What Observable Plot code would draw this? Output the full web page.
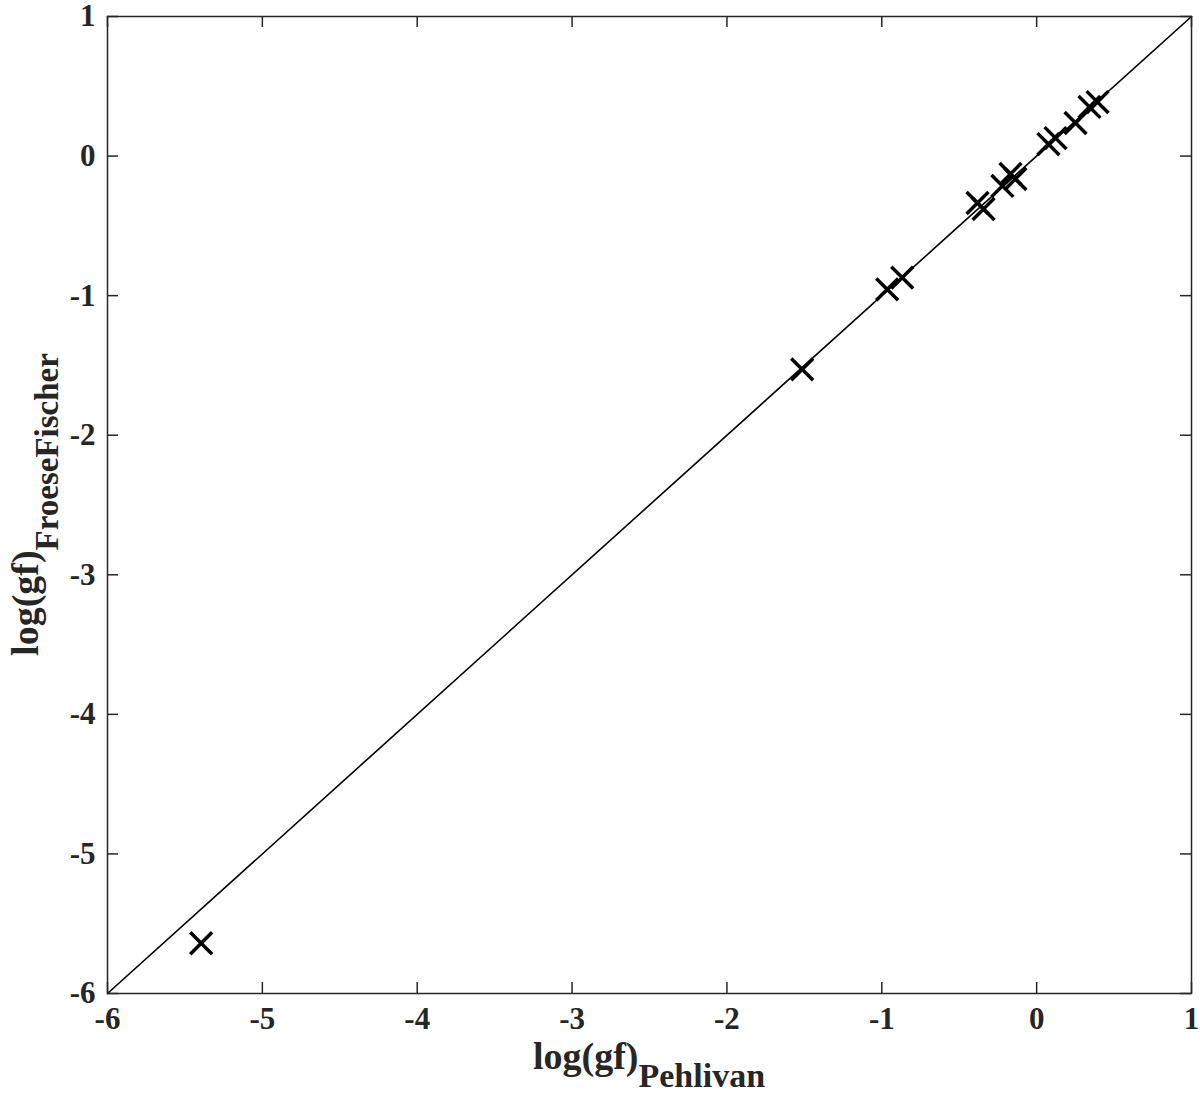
<!DOCTYPE html>
<html><head><meta charset="utf-8">
<script src="https://cdn.jsdelivr.net/npm/d3@7"></script>
<script src="https://cdn.jsdelivr.net/npm/@observablehq/plot@0.6"></script>
<style>body{margin:0;background:#fff}</style>
</head><body><div id="chart"></div>
<script>
// log(gf) values: Pehlivan (x) vs Froese Fischer (y)
const pehlivan      = [-5.395, -1.514, -0.965, -0.868, -0.382, -0.343, -0.221, -0.169, -0.137, 0.076, 0.122, 0.251, 0.341, 0.393];
const froeseFischer = [-5.640, -1.528, -0.955, -0.871, -0.336, -0.379, -0.214, -0.128, -0.164, 0.086, 0.129, 0.237, 0.352, 0.387];
const xTicks = [-6, -5, -4, -3, -2, -1, 0, 1];
const yTicks = [-6, -5, -4, -3, -2, -1, 0, 1];
const diagonal = [-6, 1];
const xLabelMain = "log(gf)", xLabelSub = "Pehlivan";
const yLabelMain = "log(gf)", yLabelSub = "FroeseFischer";

const points = pehlivan.map((x, i) => ({x, y: froeseFischer[i]}));

const W = 1200, H = 1096;
const mL = 107, mR = 9, mT = 16, mB = 103;
const pw = W - mL - mR, ph = H - mT - mB;
const tk = 11;
const ink = "#262626";
const font = "'Liberation Serif', 'Times New Roman', serif";

const chart = Plot.plot({
  width: W, height: H,
  marginLeft: mL, marginRight: mR, marginTop: mT, marginBottom: mB,
  x: {domain: [-6, 1]},
  y: {domain: [-6, 1]},
  style: {fontFamily: font, fontSize: "31px", fontWeight: "bold", color: ink, background: "#fff", overflow: "visible"},
  marks: [
    Plot.line(diagonal, {x: d => d, y: d => d, stroke: "#000", strokeWidth: 1.6}),
    Plot.dot(points, {x: "x", y: "y", symbol: "times", r: 10, stroke: "#000", strokeWidth: 3.5}),
    // inward ticks on all four sides
    Plot.tickX(xTicks, {x: d => d, insetTop: ph - tk, stroke: ink, strokeWidth: 1.5}),
    Plot.tickX(xTicks, {x: d => d, insetBottom: ph - tk, stroke: ink, strokeWidth: 1.5}),
    Plot.tickY(yTicks, {y: d => d, insetRight: pw - tk, stroke: ink, strokeWidth: 1.5}),
    Plot.tickY(yTicks, {y: d => d, insetLeft: pw - tk, stroke: ink, strokeWidth: 1.5}),
    Plot.axisX({ticks: xTicks, tickSize: 0, tickPadding: 13, tickFormat: d => String(d), label: null, fill: ink}),
    Plot.axisY({ticks: yTicks, tickSize: 0, tickPadding: 12, tickFormat: d => String(d), label: null, fill: ink}),
    Plot.frame({stroke: ink, strokeWidth: 1.5})
  ]
});
document.getElementById("chart").appendChild(chart);

const svg = d3.select(chart);
// x axis label with subscript
const xl = svg.append("text")
  .attr("x", mL + pw / 2).attr("y", 1069)
  .attr("text-anchor", "middle")
  .attr("font-family", font).attr("font-weight", "bold").attr("fill", ink);
xl.append("tspan").attr("font-size", 38).text(xLabelMain);
xl.append("tspan").attr("font-size", 34).attr("dy", 18).text(xLabelSub);

// y axis label with subscript (rotated)
const yl = svg.append("text")
  .attr("transform", `translate(38,${mT + ph / 2}) rotate(-90)`)
  .attr("text-anchor", "middle")
  .attr("font-family", font).attr("font-weight", "bold").attr("fill", ink);
yl.append("tspan").attr("font-size", 38).text(yLabelMain);
yl.append("tspan").attr("font-size", 33).attr("dy", 20).text(yLabelSub);
</script>
</body></html>
